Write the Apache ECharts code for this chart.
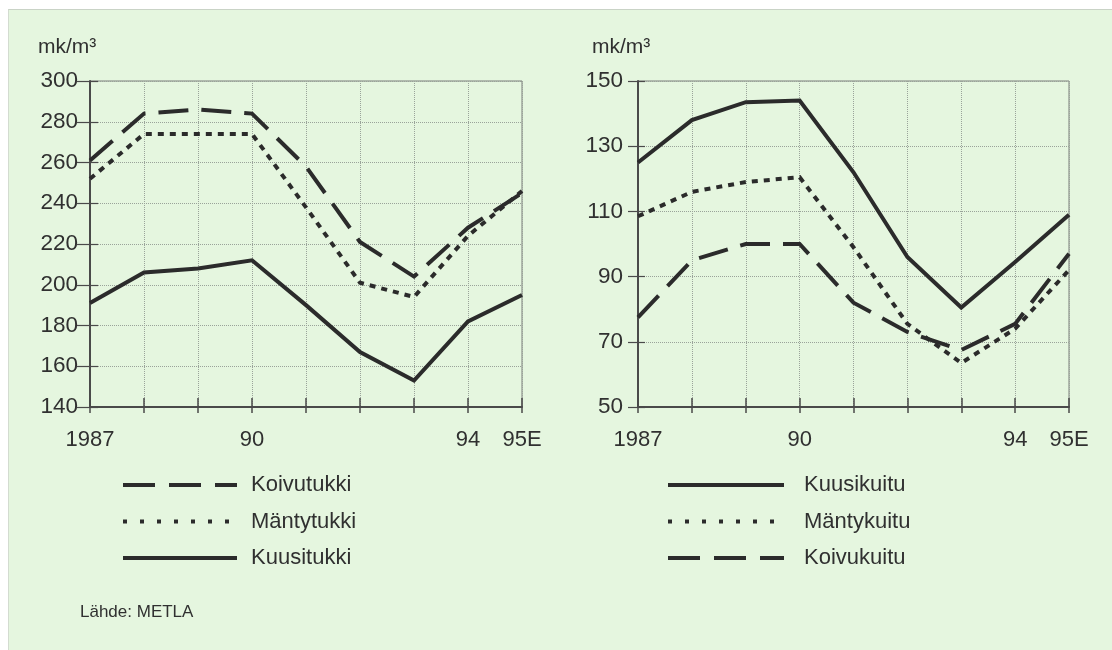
<!DOCTYPE html>
<html>
<head>
<meta charset="utf-8">
<script src="https://cdn.jsdelivr.net/npm/echarts@6/dist/echarts.min.js"></script>
<style>
  html, body { margin: 0; padding: 0; background: #ffffff; }
  #wrap { position: relative; width: 1112px; height: 650px; background: #ffffff; }
  #paper { position: absolute; left: 8px; top: 9px; right: 0; bottom: 0; background: #e5f6df; border-top: 1px solid #c9d3c6; border-left: 1px solid #d3dcd0; }
  #chart { position: absolute; left: 0; top: 0; width: 1112px; height: 650px; }
</style>
</head>
<body>
<div id="wrap">
  <div id="paper"></div>
  <div id="chart"></div>
</div>
<script>
// ---- data ----
const years = ['1987', '1988', '1989', '1990', '1991', '1992', '1993', '1994', '1995'];
const xTickLabels = ['1987', '', '', '90', '', '', '', '94', '95E'];

const leftTicks = [140, 160, 180, 200, 220, 240, 260, 280, 300];
const koivutukki = [261, 284, 286, 284, 258, 221, 204, 228, 245];
const mantytukki = [252, 274, 274, 274, 238, 201, 194, 224, 246];
const kuusitukki = [191, 206, 208, 212, 190, 167, 153, 182, 195];

const rightTicks = [50, 70, 90, 110, 130, 150];
const kuusikuitu = [125, 138, 143.5, 144, 122, 96, 80.5, 94.5, 109];
const mantykuitu = [108.5, 116, 119, 120.5, 99, 75.5, 63.5, 74, 92];
const koivukuitu = [77.5, 95, 100, 100, 82, 73, 67.5, 75.5, 97];

const unitLabel = 'mk/m³';
const sourceLabel = 'Lähde: METLA';

// ---- styles ----
const FONT = '"Liberation Sans", Arial, Helvetica, sans-serif';
const INK = '#2b2b2b';
const TXT = '#303030';
const DASH = [30, 13];
const DOT = [6, 6];

function xAxes(gridIndex) {
  return [
    {
      type: 'category', gridIndex: gridIndex, data: years, boundaryGap: false,
      axisLine: { lineStyle: { color: '#4a4a4a', width: 2 } },
      axisTick: { show: true, length: 6, lineStyle: { color: '#4a4a4a', width: 1.5 }, interval: 0 },
      axisLabel: {
        interval: 0, margin: 22, fontFamily: FONT, fontSize: 22, color: TXT,
        formatter: function (v, i) { return xTickLabels[i]; }
      },
      splitLine: { show: true, interval: 0, lineStyle: { color: '#9aa39a', width: 1, type: 'dotted' } }
    },
    {
      type: 'category', gridIndex: gridIndex, data: years, boundaryGap: false, position: 'bottom',
      axisLine: { show: false },
      axisTick: { show: true, inside: true, length: 9, lineStyle: { color: '#4a4a4a', width: 1.5 }, interval: 0 },
      axisLabel: { show: false },
      splitLine: { show: false }
    }
  ];
}

function yAxes(gridIndex, ticks, margin, outLen, inLen) {
  const mn = ticks[0], mx = ticks[ticks.length - 1], step = ticks[1] - ticks[0];
  return [
    {
      type: 'value', gridIndex: gridIndex, min: mn, max: mx, interval: step,
      axisLine: { show: true, lineStyle: { color: '#4a4a4a', width: 2 } },
      axisTick: { show: true, length: outLen, lineStyle: { color: '#4a4a4a', width: 1.2 } },
      axisLabel: { margin: margin, fontFamily: FONT, fontSize: 22.5, color: TXT },
      splitLine: { show: true, lineStyle: { color: '#9aa39a', width: 1, type: 'dotted' } }
    },
    {
      type: 'value', gridIndex: gridIndex, min: mn, max: mx, interval: step, position: 'left',
      axisLine: { show: false },
      axisTick: { show: true, inside: true, length: inLen, lineStyle: { color: '#4a4a4a', width: 1.2 } },
      axisLabel: { show: false },
      splitLine: { show: false }
    }
  ];
}

function lineSeries(name, data, xi, yi, dash) {
  return {
    type: 'line', name: name, data: data, xAxisIndex: xi, yAxisIndex: yi,
    symbol: 'none', showSymbol: false, smooth: false, z: 5,
    lineStyle: { color: INK, width: 4, type: dash || 'solid', cap: 'butt', join: 'miter' },
    itemStyle: { color: INK }
  };
}

const legendText = { fontFamily: FONT, fontSize: 22, color: TXT, lineHeight: 22 };
const legendLine = { color: INK, width: 4 };
const legendItem = { opacity: 0 };

const option = {
  backgroundColor: 'transparent',
  animation: false,
  title: [
    { text: unitLabel, left: 38, top: 37, padding: 0, textStyle: { fontFamily: FONT, fontSize: 21, fontWeight: 'normal', color: TXT } },
    { text: unitLabel, left: 592, top: 37, padding: 0, textStyle: { fontFamily: FONT, fontSize: 21, fontWeight: 'normal', color: TXT } },
    { text: sourceLabel, left: 80, top: 604, padding: 0, textStyle: { fontFamily: FONT, fontSize: 17, fontWeight: 'normal', color: TXT } }
  ],
  grid: [
    { left: 90, right: 590, top: 81, bottom: 243, show: true, borderColor: '#7a7f7a', borderWidth: 1, backgroundColor: 'transparent' },
    { left: 638, right: 43, top: 81, bottom: 243, show: true, borderColor: '#7a7f7a', borderWidth: 1, backgroundColor: 'transparent' }
  ],
  xAxis: xAxes(0).concat(xAxes(1)),
  yAxis: yAxes(0, leftTicks, 12, 13, 8).concat(yAxes(1, rightTicks, 15, 10, 7)),
  legend: [
    {
      orient: 'vertical', left: 121, top: 474, itemWidth: 114, itemHeight: 14, itemGap: 14.5,
      selectedMode: false, padding: 0,
      lineStyle: legendLine, itemStyle: legendItem,
      textStyle: Object.assign({ padding: [0, 0, 0, 9] }, legendText),
      data: [
        { name: 'Koivutukki', lineStyle: { type: [32, 14], width: 4, color: INK } },
        { name: 'Mäntytukki', lineStyle: { type: [4, 13], width: 4, color: INK } },
        { name: 'Kuusitukki' }
      ]
    },
    {
      orient: 'vertical', left: 666, top: 474, itemWidth: 116, itemHeight: 14, itemGap: 14.5,
      selectedMode: false, padding: 0,
      lineStyle: legendLine, itemStyle: legendItem,
      textStyle: Object.assign({ padding: [0, 0, 0, 15] }, legendText),
      data: [
        { name: 'Kuusikuitu' },
        { name: 'Mäntykuitu', lineStyle: { type: [4, 13], width: 4, color: INK } },
        { name: 'Koivukuitu', lineStyle: { type: [32, 14], width: 4, color: INK } }
      ]
    }
  ],
  series: [
    lineSeries('Koivutukki', koivutukki, 0, 0, DASH),
    lineSeries('Mäntytukki', mantytukki, 0, 0, DOT),
    lineSeries('Kuusitukki', kuusitukki, 0, 0, 'solid'),
    lineSeries('Kuusikuitu', kuusikuitu, 2, 2, 'solid'),
    lineSeries('Mäntykuitu', mantykuitu, 2, 2, DOT),
    lineSeries('Koivukuitu', koivukuitu, 2, 2, DASH)
  ]
};

const chart = echarts.init(document.getElementById('chart'), null, { renderer: 'canvas', width: 1112, height: 650 });
chart.setOption(option);
</script>
</body>
</html>
